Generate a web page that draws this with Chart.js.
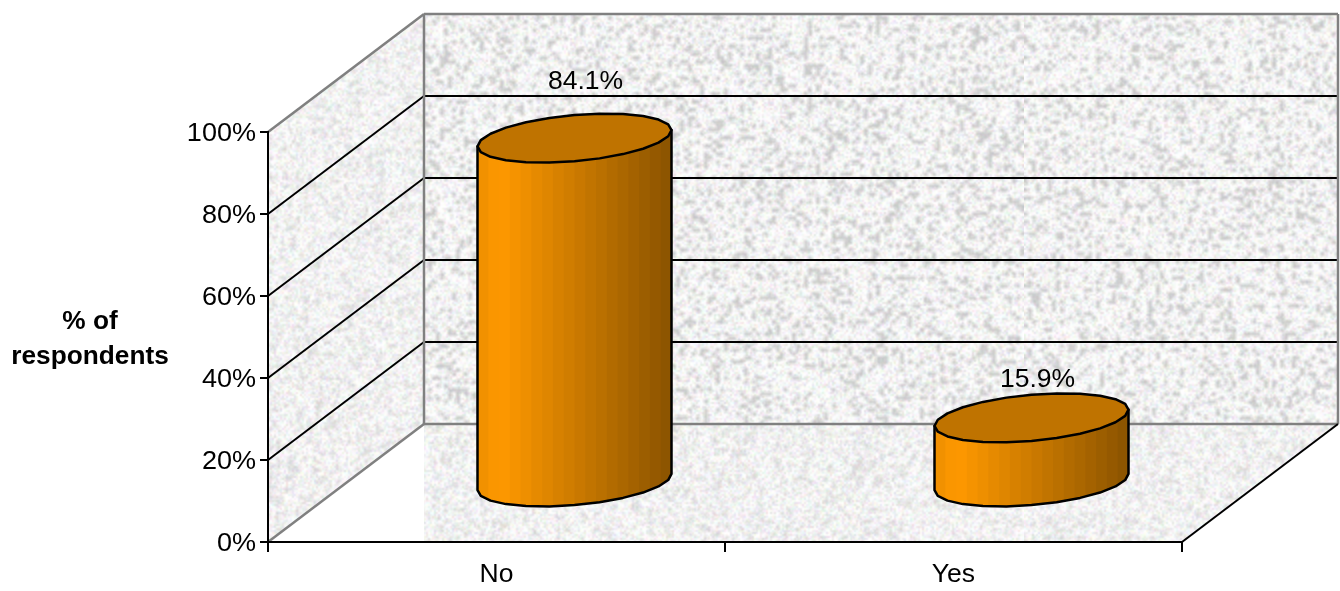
<!DOCTYPE html>
<html>
<head>
<meta charset="utf-8">
<title>% of respondents</title>
<script src="https://cdn.jsdelivr.net/npm/chart.js@4"></script>
<style>
  html, body { margin: 0; background: #fff; }
  canvas { display: block; }
</style>
</head>
<body>
<canvas id="respondentsChart" width="1340" height="591"></canvas>
<script>
const categories = ['No', 'Yes'];
const respondents = [84.1, 15.9];
const yTickValues = [0, 20, 40, 60, 80, 100];
const axisTitleLines = ['% of', 'respondents'];

// how far the back wall sits behind the axes
const DEPTH_X = 156;
const DEPTH_Y = -118;
const FONT = '"Liberation Sans", Arial, sans-serif';
const WALL_EDGE = '#808080';

// label nudges, the value text isn't quite centred on its bar
const valueLabelOffset = [[11, -56], [6, -38]];

// speckled grey texture for the walls and floor
function grainTile(size, blotAlpha, speckle, seed) {
  let s = seed;
  const rnd = () => {
    s = (s * 1664525 + 1013904223) % 4294967296;
    return s / 4294967296;
  };
  const fine = document.createElement('canvas');
  fine.width = fine.height = size / 2;
  const fctx = fine.getContext('2d');
  const img = fctx.createImageData(size / 2, size / 2);
  for (let i = 0; i < img.data.length; i += 4) {
    const v = 243 + (rnd() - 0.45) * speckle;
    img.data[i] = v + (rnd() - 0.5) * 24;
    img.data[i + 1] = v + (rnd() - 0.5) * 24;
    img.data[i + 2] = v + (rnd() - 0.5) * 24;
    img.data[i + 3] = 255;
  }
  fctx.putImageData(img, 0, 0);

  const coarse = document.createElement('canvas');
  const cells = size / 4;
  coarse.width = coarse.height = cells;
  const cctx = coarse.getContext('2d');
  for (let y = 0; y < cells; y++) {
    for (let x = 0; x < cells; x++) {
      const n = rnd();
      cctx.fillStyle = n > 0.8
        ? 'rgba(175,175,175,' + blotAlpha + ')'
        : n < 0.15 ? 'rgba(255,255,255,' + blotAlpha + ')' : 'rgba(0,0,0,0)';
      cctx.fillRect(x, y, 1, 1);
    }
  }

  const tile = document.createElement('canvas');
  tile.width = tile.height = size;
  const tctx = tile.getContext('2d');
  tctx.imageSmoothingEnabled = true;
  tctx.drawImage(fine, 0, 0, size, size);
  tctx.drawImage(coarse, 0, 0, size, size);
  return tile;
}

function fillPoly(ctx, pts, style) {
  ctx.beginPath();
  pts.forEach((p, i) => (i ? ctx.lineTo(p[0], p[1]) : ctx.moveTo(p[0], p[1])));
  ctx.closePath();
  ctx.fillStyle = style;
  ctx.fill();
}

function line(ctx, x1, y1, x2, y2, color, width) {
  ctx.beginPath();
  ctx.moveTo(x1, y1);
  ctx.lineTo(x2, y2);
  ctx.strokeStyle = color;
  ctx.lineWidth = width || 2;
  ctx.stroke();
}

// the text in this chart runs a little wider than plain Arial
function wideText(ctx, text, x, y, size, stretch, align, bold) {
  ctx.save();
  ctx.translate(x, y);
  ctx.scale(stretch, 1);
  ctx.font = (bold ? 'bold ' : '') + size + 'px ' + FONT;
  ctx.fillStyle = '#000';
  ctx.textAlign = align;
  ctx.textBaseline = 'middle';
  ctx.fillText(text, 0, 0);
  ctx.restore();
}

// walls go in beforeDraw so the axes end up on top
const wallsPlugin = {
  id: 'walls',
  beforeDraw(chart) {
    const ctx = chart.ctx;
    const { left, right, top, bottom } = chart.chartArea;
    const backL = left + DEPTH_X;
    const backR = right + DEPTH_X;
    const backTop = top + DEPTH_Y;
    const backBottom = bottom + DEPTH_Y;

    const strong = ctx.createPattern(grainTile(1024, 0.55, 34, 7), 'repeat');
    const soft = ctx.createPattern(grainTile(1024, 0.25, 30, 91), 'repeat');

    ctx.save();
    fillPoly(ctx, [[backL, backBottom], [backR, backBottom], [right, bottom], [backL, bottom]], soft);
    fillPoly(ctx, [[left, top], [backL, backTop], [backL, backBottom], [left, bottom]], soft);
    fillPoly(ctx, [[backL, backTop], [backR, backTop], [backR, backBottom], [backL, backBottom]], strong);

    const yScale = chart.scales.y;
    yScale.ticks.forEach((tick) => {
      const py = yScale.getPixelForValue(tick.value);
      const edge = tick.value === 0 || tick.value === 100;
      const color = edge ? WALL_EDGE : '#000';
      line(ctx, backL, py + DEPTH_Y, backR, py + DEPTH_Y, color, edge ? 2.5 : 2);
      line(ctx, left, py, backL, py + DEPTH_Y, color, edge ? 2.5 : 2);
    });
    line(ctx, backL, backTop, backL, backBottom, WALL_EDGE, 2.5);
    line(ctx, backR, backTop, backR, backBottom, WALL_EDGE, 2.5);
    line(ctx, right, bottom, backR, backBottom, '#000', 2);
    ctx.restore();
  },
};

// faceted outline of a bar end, tilted to follow the floor
function barEnd(cx, cy, halfWidth, fromT, toT, steps) {
  const depthX = halfWidth * 0.334;
  const radiusX = halfWidth * 0.9426;
  const radiusY = halfWidth * 0.2526;
  const pts = [];
  for (let i = 0; i <= steps; i++) {
    const t = fromT + (toT - fromT) * i / steps;
    pts.push([cx + radiusX * Math.cos(t) + depthX * Math.sin(t), cy - radiusY * Math.sin(t)]);
  }
  return pts;
}

function shade(u) {
  const b = u < 0.12 ? 0.93 + 0.07 * (u / 0.12) : 1 - 0.46 * ((u - 0.12) / 0.88);
  return 'rgb(' + Math.round(255 * b) + ',' + Math.round(153 * b) + ',0)';
}

function drawCylinder(ctx, bar) {
  const cx = bar.x + DEPTH_X / 2;
  const topY = bar.y + DEPTH_Y / 2;
  const baseY = bar.base + DEPTH_Y / 2;
  const half = bar.width / 2;
  const phi = Math.atan2(0.334, 0.9426);
  const lower = barEnd(cx, baseY, half, phi + Math.PI, phi + 2 * Math.PI, 12);
  const first = barEnd(cx, topY, half, phi + Math.PI, phi + Math.PI, 1)[0];
  const last = barEnd(cx, topY, half, phi, phi, 1)[0];
  const side = [first].concat(lower, [last]);

  ctx.save();
  ctx.beginPath();
  side.forEach((p, i) => (i ? ctx.lineTo(p[0], p[1]) : ctx.moveTo(p[0], p[1])));
  ctx.closePath();
  ctx.save();
  ctx.clip();
  const bands = 18;
  const x0 = cx - half;
  for (let i = 0; i < bands; i++) {
    ctx.fillStyle = shade((i + 0.5) / bands);
    ctx.fillRect(x0 + bar.width * i / bands, topY - 60, bar.width / bands + 1, baseY - topY + 120);
  }
  ctx.restore();
  ctx.strokeStyle = '#000';
  ctx.lineWidth = 2.5;
  ctx.lineJoin = 'round';
  ctx.stroke();

  const lid = barEnd(cx, topY, half, phi, phi + 2 * Math.PI, 24);
  fillPoly(ctx, lid, '#bf7300');
  ctx.stroke();
  ctx.restore();
}

const cylinderPlugin = {
  id: 'cylinders',
  afterDatasetsDraw(chart) {
    const ctx = chart.ctx;
    const meta = chart.getDatasetMeta(0);
    meta.data.forEach((bar) => drawCylinder(ctx, bar));

    meta.data.forEach((bar, i) => {
      const off = valueLabelOffset[i];
      wideText(ctx, respondents[i].toFixed(1) + '%',
        bar.x + DEPTH_X / 2 + off[0], bar.y + DEPTH_Y / 2 + off[1], 26, 1.02, 'center');
    });

    const y = chart.scales.y;
    y.ticks.forEach((tick) => {
      wideText(ctx, tick.label, y.left + y.width - 12, y.getPixelForValue(tick.value) + 1.5, 26, 1.04, 'right');
    });

    const x = chart.scales.x;
    x.ticks.forEach((tick, i) => {
      wideText(ctx, categories[i], x.getPixelForTick(i), x.top + 33, 26, 1.02, 'center');
    });

    wideText(ctx, axisTitleLines[0], 90, 322, 26, 1.01, 'center', true);
    wideText(ctx, axisTitleLines[1], 90, 357, 26, 1.01, 'center', true);
  },
};

const ctx = document.getElementById('respondentsChart').getContext('2d');
const respondentsChart = new Chart(ctx, {
  type: 'bar',
  data: {
    labels: categories,
    datasets: [
      {
        label: '% of respondents',
        data: respondents,
        backgroundColor: 'rgba(0,0,0,0)',
        borderWidth: 0,
        barPercentage: 1,
        categoryPercentage: 0.4245,
      },
    ],
  },
  options: {
    responsive: false,
    animation: false,
    layout: { padding: { top: 132, right: 158, bottom: 0, left: 0 } },
    scales: {
      y: {
        min: 0,
        max: 100,
        afterFit(scale) { scale.width = 268; },
        afterBuildTicks(scale) { scale.ticks = yTickValues.map((value) => ({ value })); },
        grid: { drawOnChartArea: false, color: '#000', lineWidth: 2, tickLength: 8 },
        border: { color: '#000', width: 2 },
        ticks: { display: false, callback: (value) => value + '%' },
      },
      x: {
        afterFit(scale) { scale.height = 49; },
        grid: { drawOnChartArea: false, color: '#000', lineWidth: 2, tickLength: 10 },
        border: { color: '#000', width: 2 },
        ticks: { display: false },
      },
    },
    plugins: {
      legend: { display: false },
      tooltip: { enabled: false },
    },
  },
  plugins: [wallsPlugin, cylinderPlugin],
});
</script>
</body>
</html>
